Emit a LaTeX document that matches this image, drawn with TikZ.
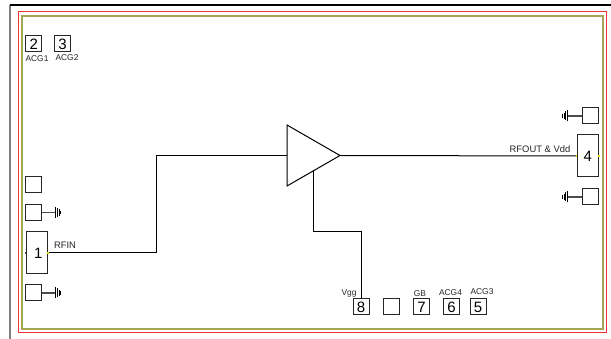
\documentclass[tikz,border=0pt]{standalone}
\usepackage{fontspec}
\setmainfont{Liberation Sans}
\definecolor{chipred}{RGB}{240,50,50}
\definecolor{chipolive}{RGB}{165,165,85}
\tikzset{
  pad/.style={draw=black!85,line width=1pt,inner sep=0pt,minimum width=16pt,minimum height=16pt,font=\fontsize{15}{15}\selectfont},
  bigpad/.style={pad,minimum width=21.5pt,minimum height=42pt},
  tag/.style={inner sep=0pt,text=black!85,font=\fontsize{8.4}{9}\selectfont},
  bigtag/.style={tag,font=\fontsize{9.4}{10}\selectfont},
  wire/.style={line width=1pt},
  lead/.style={line width=1.1pt,draw=black!70},
  portdot/.style={fill=#1,inner sep=0pt,minimum size=1.5pt,shape=rectangle}
}
\begin{document}
\begin{tikzpicture}[x=1pt,y=-1pt]
   \useasboundingbox (0,0) rectangle (611,339);
   \fill[white] (0,0) rectangle (611,339);
   %frame
   \draw[line width=1.8pt,black!50] (10,339) -- (10,5);
   \draw[line width=1.2pt,black] (9.5,5) -- (611,5);
   \draw[line width=1pt,chipred] (18,12) rectangle (606.5,333);
   \draw[line width=1.4pt,chipolive] (22,16) rectangle (603,329);
   %pads
   \node[pad] (pad2) at (33.7,44) {2};
   \node[pad] (pad3) at (62.6,44) {3};
   \node[pad] (padA) at (33.9,185) {};
   \node[pad] (padB) at (33.9,212.5) {};
   \node[pad] (padC) at (33.9,293) {};
   \node[bigpad] (pad1) at (36.9,253) {\hspace*{3pt}1};
   \node[bigpad] (pad4) at (587.8,156) {4};
   \node[pad] (padD) at (590.3,116) {};
   \node[pad] (padE) at (590.3,197) {};
   \node[pad] (pad8) at (361,307) {8};
   \node[pad] (padF) at (391.5,307) {};
   \node[pad] (pad7) at (421.5,307) {7};
   \node[pad] (pad6) at (451.5,307) {6};
   \node[pad] (pad5) at (478,307) {5};
   %labels
   \node[tag] (acg1) at (37,59) {ACG1};
   \node[tag] (acg2) at (67,58) {ACG2};
   \node[tag] (vgg) at (349,293) {Vgg};
   \node[tag] (gb) at (420,294) {GB};
   \node[tag] (acg4) at (450.5,292.5) {ACG4};
   \node[tag] (acg3) at (482,292) {ACG3};
   \node[bigtag] (rfin) at (65,245.5) {RFIN};
   \node[bigtag] (rfout) at (540,149.5) {RFOUT \& Vdd};
   %amplificatore
   \coordinate (amptop) at (287,125);
   \coordinate (ampbot) at (287,186);
   \coordinate (ampin) at (287,155.5);
   \coordinate (ampout) at (340,155.5);
   \coordinate (ampvgg) at (313,171);
   \draw[wire,line join=miter] (amptop) -- (ampbot) -- (ampout) -- cycle;
   %connessioni
   \draw[wire] (pad1.east) -- (156,253) -- (156,155.5) -- (ampin);
   \draw[wire] (ampout) -- (pad4.west);
   \draw[wire] (ampvgg) -- (313,232) -- (361,232) -- (pad8.north);
   %masse
   \foreach \name/\dir in {padB/east,padC/east} {
      \draw[lead] (\name.\dir) -- ++(13,0) coordinate (gnd);
      \foreach \dx/\h in {0/5.5,2/4.5,3.8/3.2,5.4/1.8} \draw[line width=1pt] ([xshift=\dx pt,yshift=-\h pt]gnd) -- ([xshift=\dx pt,yshift=\h pt]gnd);
   }
   \foreach \name/\dir in {padD/west,padE/west} {
      \draw[lead] (\name.\dir) -- ++(-14,0) coordinate (gnd);
      \foreach \dx/\h in {0/5.5,2/4.5,3.8/3.2,5.4/1.8} \draw[line width=1pt] ([xshift=-\dx pt,yshift=-\h pt]gnd) -- ([xshift=-\dx pt,yshift=\h pt]gnd);
   }
   %porte
   \node[portdot=black!60!olive] (portA) at (pad1.west) {};
   \node[portdot=yellow!80!olive] (portB) at (pad1.east) {};
   \node[portdot=yellow!80!olive] (portC) at (pad4.west) {};
   \node[portdot=yellow!80!olive] (portD) at (pad4.east) {};
\end{tikzpicture}
\end{document}
